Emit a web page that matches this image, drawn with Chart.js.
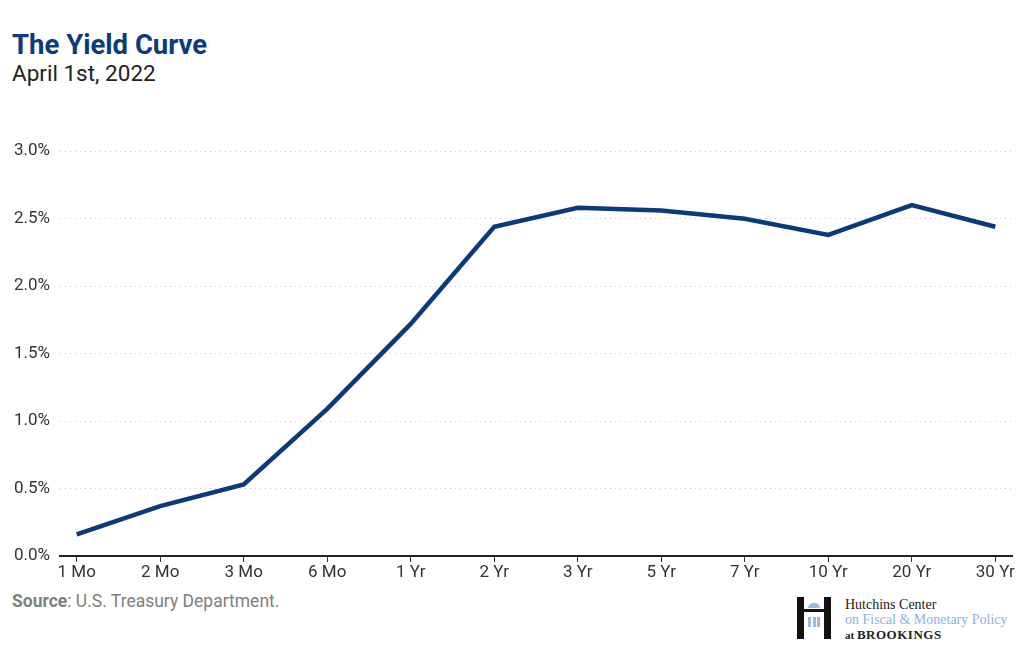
<!DOCTYPE html>
<html>
<head>
<meta charset="utf-8">
<script src="https://cdn.jsdelivr.net/npm/chart.js@4/dist/chart.umd.min.js"></script>
<style>
  body { margin: 0; width: 1024px; height: 655px; background: #fff; font-family: Roboto, sans-serif; position: relative; overflow: hidden; }
  .title { position: absolute; left: 12px; top: 28px; font-size: 27.5px; font-weight: 700; color: #0b3b7c; }
  .subtitle { position: absolute; left: 12px; top: 60px; font-size: 22.5px; color: #222; }
  .chart-box { position: absolute; left: 0; top: 131px; width: 1024px; height: 453px; }
  .source { position: absolute; left: 12px; top: 591px; font-size: 17.5px; color: #808080; }
  .source b { font-weight: 700; }
  .logo { position: absolute; left: 797px; top: 597px; width: 220px; height: 45px; }
  .logo .h { position: absolute; left: 0; top: 0; width: 34px; height: 42px; }
  .logo .h .l, .logo .h .r { position: absolute; top: 0; width: 7px; height: 42px; background: #111; }
  .logo .h .l { left: 0; } .logo .h .r { right: 0; }
  .logo .h .bar { position: absolute; left: 7px; top: 12px; width: 20px; height: 3px; background: #111; }
  .logo .h .roof { position: absolute; left: 11px; top: 6px; width: 12px; height: 5px; background: #9dbbe0; border-radius: 6px 6px 0 0; }
  .logo .h .col { position: absolute; top: 20px; width: 3px; height: 10px; background: #9dbbe0; }
  .logo .t { position: absolute; left: 48px; top: 0; font-family: "Liberation Serif", serif; font-size: 14px; line-height: 15px; color: #222; white-space: nowrap; }
  .logo .t .blue { color: #8fb1de; }
  .logo .t .brk { font-size: 13px; font-weight: 700; letter-spacing: 0.5px; }
  .logo .t .at { font-size: 11px; font-weight: 700; }
</style>
</head>
<body>
<div class="title">The Yield Curve</div>
<div class="subtitle">April 1st, 2022</div>
<div class="chart-box"><canvas id="chart"></canvas></div>
<div class="source"><b>Source</b>: U.S. Treasury Department.</div>
<div class="logo">
  <div class="h">
    <div class="l"></div><div class="r"></div><div class="bar"></div>
    <div class="roof"></div>
    <div class="col" style="left:11px"></div><div class="col" style="left:15.5px"></div><div class="col" style="left:20px"></div>
  </div>
  <div class="t">Hutchins Center<br><span class="blue">on Fiscal &amp; Monetary Policy</span><br><span class="at">at </span><span class="brk">BROOKINGS</span></div>
</div>
<script>
// Treasury yields, April 1st 2022
const maturities = ['1 Mo', '2 Mo', '3 Mo', '6 Mo', '1 Yr', '2 Yr', '3 Yr', '5 Yr', '7 Yr', '10 Yr', '20 Yr', '30 Yr'];
const yields = [0.16, 0.37, 0.53, 1.09, 1.72, 2.44, 2.58, 2.56, 2.50, 2.38, 2.60, 2.44];
const yTicks = [0, 0.5, 1.0, 1.5, 2.0, 2.5, 3.0];

const ctx = document.getElementById('chart').getContext('2d');

new Chart(ctx, {
  type: 'line',
  data: {
    datasets: [
      {
        label: 'Yield',
        data: yields.map((v, i) => ({ x: i, y: v })),
        borderColor: '#0a3a7a',
        borderWidth: 4.5,
        pointRadius: 0,
        tension: 0,
        fill: false,
        borderJoinStyle: 'miter',
      },
    ],
  },
  options: {
    responsive: true,
    maintainAspectRatio: false,
    animation: false,
    layout: { padding: { top: 9, right: 12, left: 0, bottom: 0 } },
    plugins: {
      legend: { display: false },
      tooltip: { enabled: false },
    },
    scales: {
      x: {
        type: 'linear',
        min: -0.2,
        max: 11.2,
        afterBuildTicks: (scale) => {
          scale.ticks = maturities.map((_, i) => ({ value: i }));
        },
        afterFit: (scale) => { scale.height = 28; },
        grid: { drawOnChartArea: false, drawTicks: true, tickLength: 6, color: '#333', lineWidth: 1 },
        border: { display: true, color: '#222', width: 2 },
        ticks: {
          color: '#333',
          font: { size: 17, family: 'Roboto' },
          maxRotation: 0,
          autoSkip: false,
          padding: 1,
          callback: (v) => maturities[v],
        },
      },
      y: {
        min: 0,
        max: 3,
        afterBuildTicks: (scale) => {
          scale.ticks = yTicks.map((v) => ({ value: v }));
        },
        afterFit: (scale) => { scale.width = 60; },
        grid: { color: '#c8c8c8', lineWidth: 1, drawTicks: false },
        border: { display: false, dash: [1, 4] },
        ticks: {
          color: '#333',
          font: { size: 17, family: 'Roboto' },
          padding: 10,
          callback: (v) => v.toFixed(1) + '%',
        },
      },
    },
  },
});
</script>
</body>
</html>
